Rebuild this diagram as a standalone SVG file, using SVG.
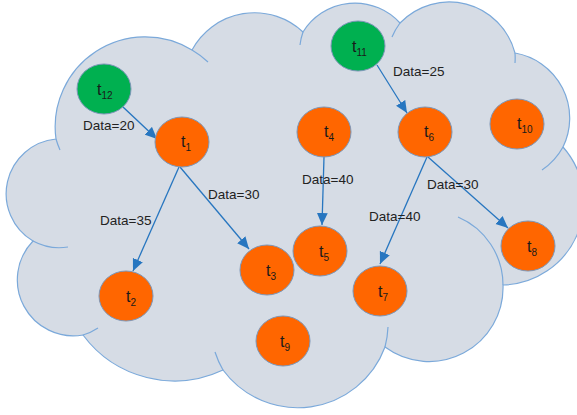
<svg xmlns="http://www.w3.org/2000/svg" width="577" height="415" viewBox="0 0 577 415">
<defs>
<style>
.cloud{fill:#D6DCE5;stroke:#7BA9DA;stroke-width:1.2}
.inner{fill:none;stroke:#7BA9DA;stroke-width:1.2}
.or{fill:#FF6600;stroke:#7C96B8;stroke-width:1}
.gr{fill:#00B050;stroke:#7C96B8;stroke-width:1}
.lbl{font-family:"Liberation Sans",Arial,sans-serif;font-size:16px;fill:#1a1a1a}
.sub{font-size:10px}
.dl{font-family:"Liberation Sans",Arial,sans-serif;font-size:13.5px;fill:#222}
.edge{stroke:#2776C0;stroke-width:1.3;fill:none;marker-end:url(#ah)}
</style>
<marker id="ah" markerUnits="userSpaceOnUse" markerWidth="12" markerHeight="12" viewBox="0 0 10 10" refX="10" refY="5" orient="auto">
<path d="M0,0.5 L10,5 L0,9.5 Z" fill="#2776C0"/>
</marker>
</defs>
<g id="cloud">
<path class="cloud" d="M56,139 A90,90 0 0 1 192,50 A71,71 0 0 1 303,32 A61,61 0 0 1 400,23 A68,68 0 0 1 515,53 A66,66 0 0 1 563,147 A83,83 0 0 1 503,285 A74,74 0 0 1 385,347 A93,93 0 0 1 223,370 A114,114 0 0 1 83,335 A56,56 0 0 1 33,241 A55,55 0 0 1 56,139 Z"/>
<path class="inner" d="M56,139 A90,90 0 0 0 60,150 M192,50 A90,90 0 0 1 208,62 M303,32 A61,61 0 0 0 300,45 M400,23 A68,68 0 0 0 392,37 M515,53 A68,68 0 0 1 515,63 M563,147 A66,66 0 0 1 542,170 M503,285 A74,74 0 0 0 458,217 M385,347 A93,93 0 0 0 388,327 M223,370 A93,93 0 0 1 215,352 M83,335 A56,56 0 0 0 98,328 M33,241 A55,55 0 0 0 68,247"/>
</g>
<g id="connectors">
<line class="edge" x1="123" y1="107" x2="157" y2="139"/>
<line class="edge" x1="179" y1="167" x2="133" y2="271"/>
<line class="edge" x1="180" y1="167" x2="249" y2="249"/>
<line class="edge" x1="324" y1="157" x2="322" y2="225"/>
<line class="edge" x1="377" y1="65" x2="407" y2="113"/>
<line class="edge" x1="427" y1="157" x2="380" y2="264"/>
<line class="edge" x1="428" y1="157" x2="508" y2="228"/>
<text class="dl" x="83" y="130">Data=20</text>
<text class="dl" x="208" y="199">Data=30</text>
<text class="dl" x="100" y="225">Data=35</text>
<text class="dl" x="302" y="184">Data=40</text>
<text class="dl" x="393" y="76">Data=25</text>
<text class="dl" x="427" y="189">Data=30</text>
<text class="dl" x="369" y="221">Data=40</text>
</g>
<g id="t12"><ellipse class="gr" cx="104" cy="89" rx="27" ry="25"/><text class="lbl" x="97" y="95">t<tspan class="sub" dy="4">12</tspan></text></g>
<g id="t1"><ellipse class="or" cx="182" cy="142" rx="27" ry="25"/><text class="lbl" x="181" y="147">t<tspan class="sub" dy="4">1</tspan></text></g>
<g id="t11"><ellipse class="gr" cx="358" cy="46" rx="27" ry="25"/><text class="lbl" x="352" y="52">t<tspan class="sub" dy="4">11</tspan></text></g>
<g id="t4"><ellipse class="or" cx="324" cy="132" rx="27" ry="25"/><text class="lbl" x="324" y="137">t<tspan class="sub" dy="4">4</tspan></text></g>
<g id="t6"><ellipse class="or" cx="425" cy="132" rx="27" ry="25"/><text class="lbl" x="424" y="137">t<tspan class="sub" dy="4">6</tspan></text></g>
<g id="t10"><ellipse class="or" cx="517" cy="124" rx="27" ry="25"/><text class="lbl" x="517" y="129">t<tspan class="sub" dy="4">10</tspan></text></g>
<g id="t2"><ellipse class="or" cx="126" cy="296" rx="27" ry="25"/><text class="lbl" x="126" y="302">t<tspan class="sub" dy="4">2</tspan></text></g>
<g id="t3"><ellipse class="or" cx="267" cy="270" rx="27" ry="25"/><text class="lbl" x="266" y="276">t<tspan class="sub" dy="4">3</tspan></text></g>
<g id="t9"><ellipse class="or" cx="283" cy="341" rx="27" ry="25"/><text class="lbl" x="280" y="347">t<tspan class="sub" dy="4">9</tspan></text></g>
<g id="t5"><ellipse class="or" cx="320" cy="251" rx="27" ry="25"/><text class="lbl" x="319" y="257">t<tspan class="sub" dy="4">5</tspan></text></g>
<g id="t7"><ellipse class="or" cx="380" cy="291" rx="27" ry="25"/><text class="lbl" x="378" y="297">t<tspan class="sub" dy="4">7</tspan></text></g>
<g id="t8"><ellipse class="or" cx="528" cy="246" rx="27" ry="25"/><text class="lbl" x="527" y="252">t<tspan class="sub" dy="4">8</tspan></text></g>
</svg>
